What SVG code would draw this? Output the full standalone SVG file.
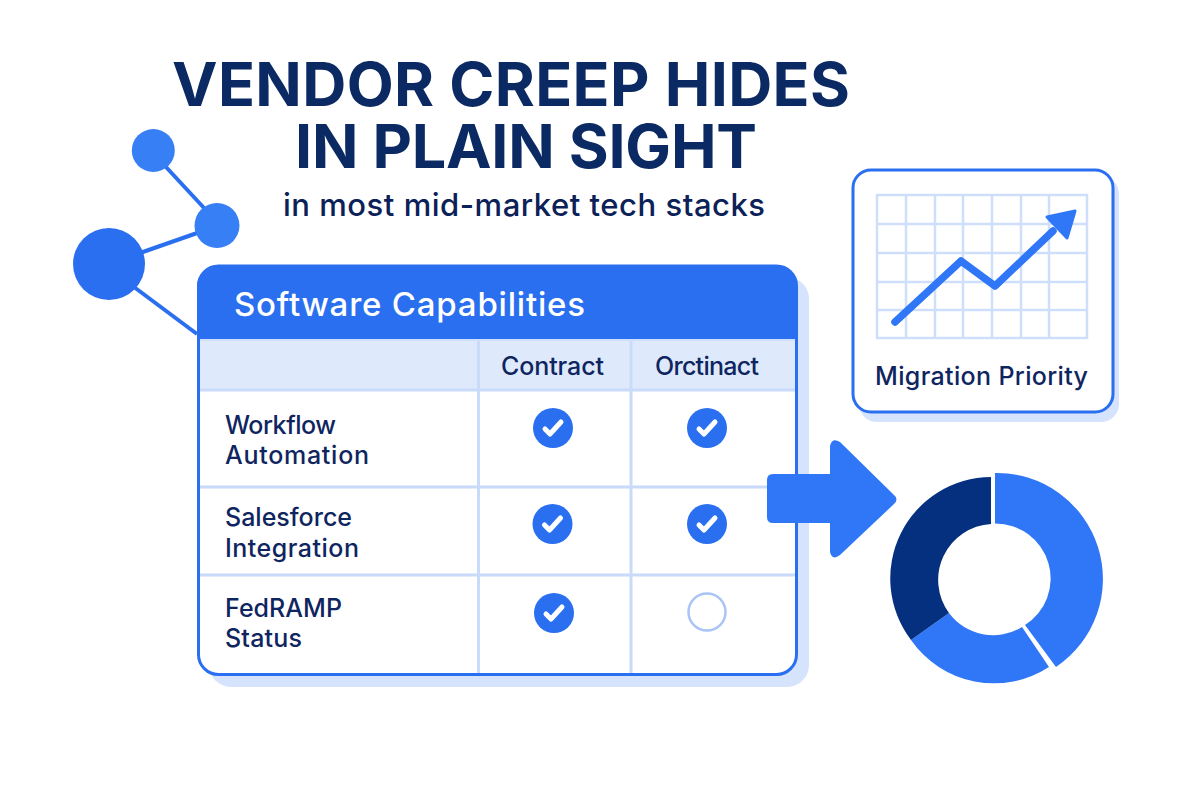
<svg xmlns="http://www.w3.org/2000/svg" width="1200" height="800" viewBox="0 0 1200 800">
<defs>
<style>
text{font-family:Inter,"Noto Sans","Liberation Sans",sans-serif}
.title{font-size:61px;font-weight:700;fill:#0b2a63}
.sub{font-size:31px;font-weight:500;fill:#0b2158}
.cell{font-size:25px;font-weight:500;fill:#0f2560}
.grid{stroke:#c9dafa;stroke-width:3;fill:none}
.chartgrid{stroke:#cfdffb;stroke-width:2.5;fill:none}
.ok{fill:#2a6ff0}
.tick{fill:none;stroke:#fff;stroke-width:5;stroke-linecap:round;stroke-linejoin:round}
.link{stroke:#2a6ff0;stroke-width:4;fill:none}
.bar{fill:#2f77f7}
</style>
<g id="okmark"><circle class="ok" r="20"/><path class="tick" d="M-8 1L-3 6L8 -6"/></g>
</defs>
<rect width="1200" height="800" fill="#fff"/>
<g id="title">
<text class="title" x="172" y="105.500" textLength="678" lengthAdjust="spacing">VENDOR CREEP HIDES</text>
<text class="title" x="295" y="168" textLength="462" lengthAdjust="spacing">IN PLAIN SIGHT</text>
<text class="sub" x="283" y="216" textLength="482" lengthAdjust="spacing">in most mid-market tech stacks</text>
</g>
<g id="connectors">
<path class="link" d="M166 167L205 209"/>
<path class="link" d="M140 253L200 232"/>
<path class="link" d="M134 287L197 334"/>
</g>
<g id="node-small-top"><circle cx="153.300" cy="150.500" r="21.500" fill="#377ff5"/></g>
<g id="node-small-mid"><circle cx="217" cy="225.500" r="22.500" fill="#377ff5"/></g>
<g id="node-large"><circle cx="109" cy="264" r="36" fill="#2a6ff0"/></g>
<g id="table">
<rect x="209" y="277" width="600" height="410" rx="22" fill="#d5e3fd"/>
<rect x="198.500" y="266" width="598" height="408.500" rx="20" fill="#fff" stroke="#2a6ff0" stroke-width="3"/>
<rect x="200" y="339" width="595" height="51" fill="#deeafc"/>
<path d="M197 339V287a22 22 0 0 1 22-22H775a22 22 0 0 1 22 22V339Z" fill="#2a6ff0"/>
<path class="grid" d="M200 390H795M200 487H795M200 575H795M478.500 340V673M631 340V673"/>
<path d="M200 340H795" stroke="#cfe0fb" stroke-width="2"/>
<text x="234" y="316" font-size="33" font-weight="500" fill="#fff" textLength="351" lengthAdjust="spacing">Software Capabilities</text>
<text class="cell" x="501" y="375" textLength="103" lengthAdjust="spacing">Contract</text>
<text class="cell" x="655" y="375" textLength="104" lengthAdjust="spacing">Orctinact</text>
<text class="cell" x="225" y="434" textLength="111" lengthAdjust="spacing">Workflow</text>
<text class="cell" x="225" y="464" textLength="144" lengthAdjust="spacing">Automation</text>
<text class="cell" x="225" y="526" textLength="127" lengthAdjust="spacing">Salesforce</text>
<text class="cell" x="225" y="557" textLength="134" lengthAdjust="spacing">Integration</text>
<text class="cell" x="225" y="617" textLength="117" lengthAdjust="spacing">FedRAMP</text>
<text class="cell" x="225" y="647" textLength="77" lengthAdjust="spacing">Status</text>
<use href="#okmark" x="553" y="428"/>
<use href="#okmark" x="707" y="428"/>
<use href="#okmark" x="552.500" y="524"/>
<use href="#okmark" x="707" y="524"/>
<use href="#okmark" x="554" y="613"/>
<circle cx="707" cy="612" r="18.500" fill="#fff" stroke="#aac4f6" stroke-width="2.500"/>
</g>
<g id="arrow">
<path d="M773 474H830V446Q832 437 840 442L894 495Q899 499 894 504L840 555Q832 561 830 552V523H773Q767 523 767 517V480Q767 474 773 474Z" class="bar"/>
</g>
<g id="chart-card">
<rect x="859" y="176" width="260" height="246" rx="18" fill="#d5e3fd"/>
<rect x="853" y="170" width="260" height="242" rx="18" fill="#fff" stroke="#2a6ff0" stroke-width="3"/>
<path class="chartgrid" d="M877 195H1087V338H877ZM906 195V338M935 195V338M963 195V338M992 195V338M1021 195V338M1049 195V338M877 224H1087M877 253H1087M877 282H1087M877 310H1087"/>
<path d="M895 322L961 261L995 286L1053 231" fill="none" stroke="#2f77f7" stroke-width="7.500" stroke-linecap="round" stroke-linejoin="round"/>
<path d="M1047 217L1075 211L1067 238Z" fill="#2f77f7" stroke="#2f77f7" stroke-width="3" stroke-linejoin="round"/>
<text class="cell" x="875" y="385" textLength="213" lengthAdjust="spacing">Migration Priority</text>
</g>
<g id="donut">
<path d="M995 473A106 106 0 0 1 1056 667L1025 625A55 55 0 0 0 995 523.500Z" fill="#2f77f7"/>
<path d="M1049 667A101 101 0 0 1 911 640L949 613A55 55 0 0 0 1022 627Z" fill="#2f77f7"/>
<path d="M991 477A101.500 101.500 0 0 0 911 640L949 613A56 56 0 0 1 991 524Z" fill="#04307f"/>
</g>
</svg>
